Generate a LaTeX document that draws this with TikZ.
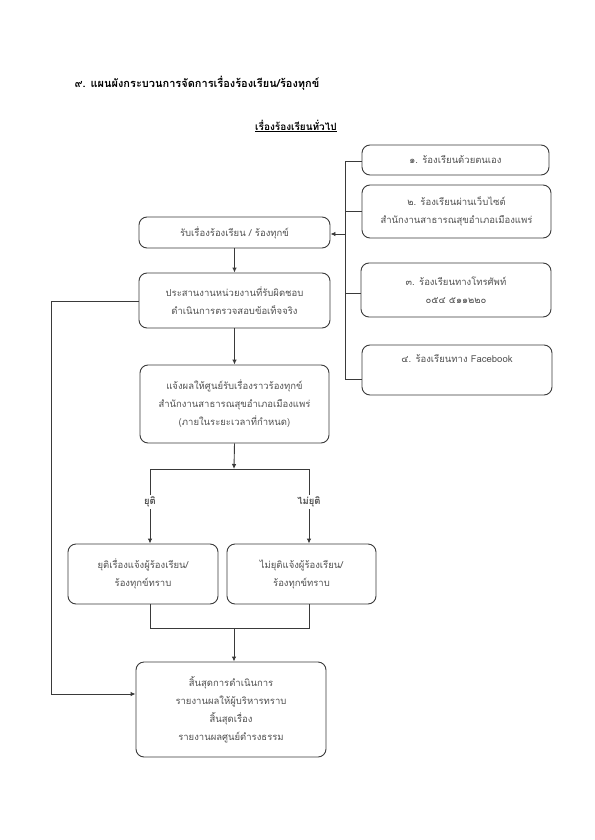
\documentclass[tikz,border=0pt]{standalone}
\usepackage{fontspec}
\setmainfont[Script=Thai]{Loma}
\usetikzlibrary{arrows.meta}
\definecolor{edge}{HTML}{3A3A3A}
\definecolor{txt}{HTML}{505050}
\tikzset{
  box/.style={draw=edge, line width=0.9pt, rounded corners=8pt, align=center,
    text=txt, font=\fontsize{9.5}{18}\selectfont, inner sep=0pt},
  conn/.style={draw=edge, line width=0.9pt},
  arr/.style={conn, -{Latex[length=5pt,width=4.5pt]}},
  lbl/.style={fill=white, font=\bfseries\fontsize{9.5}{12}\selectfont, text=txt, inner sep=2pt}
}
\begin{document}
\begin{tikzpicture}[x=1pt,y=-1pt]
\useasboundingbox (0,0) rectangle (594,840);
% titles
\node[anchor=west, font=\bfseries\fontsize{11}{14}\selectfont] (title) at (71,83) {๙. แผนผังกระบวนการจัดการเรื่องร้องเรียน/ร้องทุกข์};
\node[font=\bfseries\fontsize{10}{13}\selectfont] (sub) at (296,126) {\underline{เรื่องร้องเรียนทั่วไป}};
% right column
\node[box, minimum width=187pt, minimum height=30pt] (c1) at (455.5,160) {๑. ร้องเรียนด้วยตนเอง};
\node[box, minimum width=189pt, minimum height=53pt] (c2) at (456.5,211.5) {๒. ร้องเรียนผ่านเว็บไซต์\\สำนักงานสาธารณสุขอำเภอเมืองแพร่};
\node[box, minimum width=190pt, minimum height=54pt] (c3) at (456,290) {๓. ร้องเรียนทางโทรศัพท์\\๐๕๔ ๕๑๑๒๒๐};
\node[box, minimum width=190pt, minimum height=50pt] (c4) at (457,370) {๔. ร้องเรียนทาง Facebook\\\strut};
% main column
\node[box, minimum width=191pt, minimum height=31pt] (recv) at (234.5,232.5) {รับเรื่องร้องเรียน / ร้องทุกข์};
\node[box, minimum width=191pt, minimum height=55pt] (coord) at (234.5,300.5) {ประสานงานหน่วยงานที่รับผิดชอบ\\ดำเนินการตรวจสอบข้อเท็จจริง};
\node[box, minimum width=189pt, minimum height=78pt] (notify) at (234.5,404) {แจ้งผลให้ศูนย์รับเรื่องราวร้องทุกข์\\สำนักงานสาธารณสุขอำเภอเมืองแพร่\\(ภายในระยะเวลาที่กำหนด)};
\node[box, minimum width=150pt, minimum height=60pt] (stop) at (143,574) {ยุติเรื่องแจ้งผู้ร้องเรียน/\\ร้องทุกข์ทราบ};
\node[box, minimum width=149pt, minimum height=60pt] (nostop) at (301.5,574) {ไม่ยุติแจ้งผู้ร้องเรียน/\\ร้องทุกข์ทราบ};
\node[box, minimum width=190pt, minimum height=95pt] (end) at (231,709.5) {สิ้นสุดการดำเนินการ\\รายงานผลให้ผู้บริหารทราบ\\สิ้นสุดเรื่อง\\รายงานผลศูนย์ดำรงธรรม};
% bus on the right
\coordinate (b1) at (345,161);
\coordinate (b2) at (345,211);
\coordinate (b3) at (345,293);
\coordinate (b4) at (345,379);
\coordinate (bin) at (345,234);
\draw[conn] (b1) -- (b4);
\draw[conn] (b1) -- (b1 -| c1.west);
\draw[conn] (b2) -- (b2 -| c2.west);
\draw[conn] (b3) -- (b3 -| c3.west);
\draw[conn] (b4) -- (b4 -| c4.west);
\draw[arr] (bin) -- (bin -| recv.east);
% main flow
\draw[arr] (recv.south) -- (coord.north);
\draw[arr] (coord.south) -- (notify.north);
\coordinate (split) at (234,469);
\coordinate (sl) at (150,469);
\coordinate (sr) at (309,469);
\draw[arr] (notify.south) -- (split);
\draw[conn] (sl) -- (sr);
\draw[arr] (sl) -- (sl |- stop.north) node[lbl, pos=0.44] (ly) {ยุติ};
\draw[arr] (sr) -- (sr |- nostop.north) node[lbl, pos=0.44] (ln) {ไม่ยุติ};
\coordinate (ml) at (150,628);
\coordinate (mr) at (309,628);
\coordinate (mm) at (234,628);
\draw[conn] (ml |- stop.south) -- (ml) -- (mr) -- (mr |- nostop.south);
\draw[arr] (mm) -- (mm |- end.north);
% left return
\coordinate (lt) at (51,301);
\coordinate (lb) at (51,694);
\draw[arr] (coord.west |- lt) -- (lt) -- (lb) -- (lb -| end.west);
\end{tikzpicture}
\end{document}
